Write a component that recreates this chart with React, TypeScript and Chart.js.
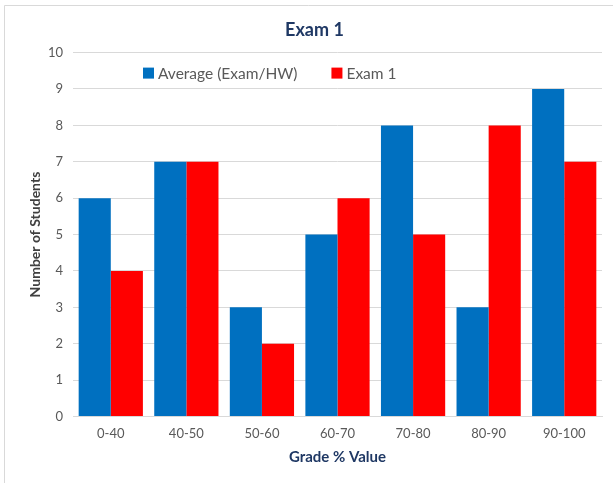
import React, { useEffect, useRef } from "react";
import { Chart, registerables } from "chart.js";

Chart.register(...registerables);

const categories = ["0-40", "40-50", "50-60", "60-70", "70-80", "80-90", "90-100"];
const averageValues = [6, 7, 3, 5, 8, 3, 9];
const exam1Values = [4, 7, 2, 6, 5, 8, 7];
const seriesLabels = ["Average (Exam/HW)", "Exam 1"];
const seriesColors = ["#0070C0", "#FF0000"];
const FONT = "Lato, 'Open Sans', sans-serif";

const frame = {
  id: "frame",
  beforeDraw(chart: any) {
    const ctx = chart.ctx;
    ctx.save();
    ctx.fillStyle = "#ffffff";
    ctx.fillRect(0, 0, chart.width, chart.height);
    ctx.strokeStyle = "#d9d9d9";
    ctx.lineWidth = 1;
    ctx.beginPath();
    ctx.moveTo(4.5, chart.height);
    ctx.lineTo(4.5, 5.5);
    ctx.lineTo(chart.width, 5.5);
    ctx.stroke();
    ctx.restore();
  },
};

const innerLegend = {
  id: "innerLegend",
  afterDatasetsDraw(chart: any) {
    const ctx = chart.ctx;
    const area = chart.chartArea;
    ctx.save();
    ctx.font = `15.5px ${FONT}`;
    ctx.textBaseline = "middle";
    ctx.textAlign = "left";
    let x = area.left + 70;
    const y = area.top + 20;
    chart.data.datasets.forEach((ds: any) => {
      ctx.fillStyle = ds.backgroundColor;
      ctx.fillRect(x, y - 5, 11, 11);
      ctx.fillStyle = "#595959";
      ctx.fillText(ds.label, x + 15, y + 1);
      x += 15 + ctx.measureText(ds.label).width + 34;
    });
    ctx.restore();
  },
};

export default function App() {
  const ref = useRef<HTMLCanvasElement>(null);
  useEffect(() => {
    document.body.style.margin = "0";
    const chart = new Chart(ref.current!, {
      type: "bar",
      data: {
        labels: categories,
        datasets: [
          { label: seriesLabels[0], data: averageValues, backgroundColor: seriesColors[0] },
          { label: seriesLabels[1], data: exam1Values, backgroundColor: seriesColors[1] },
        ],
      },
      options: {
        responsive: false,
        animation: false,
        layout: { padding: { top: 19, right: 11, left: 27, bottom: 17 } },
        datasets: { bar: { categoryPercentage: 0.85, barPercentage: 1 } },
        plugins: {
          legend: { display: false },
          tooltip: { enabled: false },
          title: {
            display: true,
            text: "Exam 1",
            color: "#1F3864",
            font: { family: FONT, size: 18, weight: "bold" },
            padding: { top: 0, bottom: 12 },
          },
        },
        scales: {
          x: {
            grid: { display: false, drawTicks: false },
            border: { color: "#d9d9d9" },
            ticks: { color: "#595959", font: { family: FONT, size: 13 }, padding: 10 },
            title: {
              display: true,
              text: "Grade % Value",
              color: "#1F3864",
              font: { family: FONT, size: 15, weight: "bold" },
              padding: { top: 0, bottom: 0 },
            },
            afterFit: (scale: any) => {
              scale.height = 49.5;
            },
          },
          y: {
            min: 0,
            max: 10,
            grid: { color: "#d9d9d9", drawTicks: false },
            border: { display: false },
            ticks: { stepSize: 1, color: "#595959", font: { family: FONT, size: 13 }, padding: 10 },
            title: {
              display: true,
              text: "Number of Students",
              color: "#404040",
              font: { family: FONT, size: 14, weight: "bold" },
              padding: { top: 0, bottom: 0 },
            },
            afterFit: (scale: any) => {
              scale.width = 46;
            },
          },
        },
      },
      plugins: [frame, innerLegend],
    });
    return () => chart.destroy();
  }, []);
  return <canvas ref={ref} width={613} height={483} style={{ display: "block" }} />;
}
